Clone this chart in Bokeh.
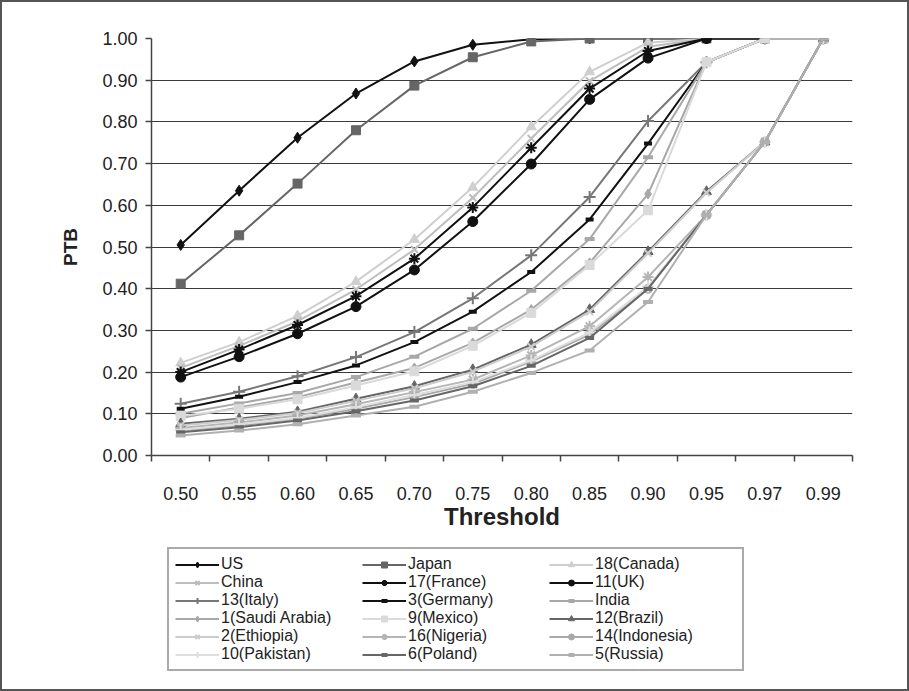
from bokeh.plotting import figure
from bokeh.layouts import column
from bokeh.models import Legend, LegendItem, FixedTicker, NumeralTickFormatter, Range1d
from bokeh.embed import file_html
from bokeh.resources import INLINE

# ---------------- data ----------------
thresholds = ["0.50", "0.55", "0.60", "0.65", "0.70", "0.75",
              "0.80", "0.85", "0.90", "0.95", "0.97", "0.99"]

us        = [0.505, 0.635, 0.762, 0.868, 0.945, 0.985, 0.998, 1.0, 1.0, 1.0, 1.0, 1.0]
japan     = [0.412, 0.528, 0.652, 0.780, 0.887, 0.955, 0.993, 1.0, 1.0, 1.0, 1.0, 1.0]
canada    = [0.222, 0.272, 0.335, 0.417, 0.518, 0.643, 0.788, 0.920, 0.990, 1.0, 1.0, 1.0]
china     = [0.210, 0.263, 0.322, 0.398, 0.494, 0.618, 0.760, 0.898, 0.980, 1.0, 1.0, 1.0]
france    = [0.200, 0.254, 0.313, 0.382, 0.472, 0.595, 0.738, 0.880, 0.970, 1.0, 1.0, 1.0]
uk        = [0.188, 0.237, 0.292, 0.357, 0.445, 0.561, 0.699, 0.854, 0.953, 1.0, 1.0, 1.0]
italy     = [0.124, 0.153, 0.190, 0.236, 0.296, 0.377, 0.480, 0.620, 0.802, 0.943, 1.0, 1.0]
germany   = [0.112, 0.141, 0.176, 0.216, 0.272, 0.345, 0.440, 0.566, 0.748, 0.943, 1.0, 1.0]
india     = [0.100, 0.125, 0.150, 0.188, 0.237, 0.304, 0.395, 0.519, 0.715, 0.943, 1.0, 1.0]
saudi     = [0.090, 0.115, 0.140, 0.175, 0.210, 0.270, 0.350, 0.462, 0.627, 0.943, 1.0, 1.0]
mexico    = [0.095, 0.112, 0.135, 0.168, 0.202, 0.263, 0.342, 0.457, 0.588, 0.943, 1.0, 1.0]
brazil    = [0.076, 0.088, 0.105, 0.136, 0.166, 0.206, 0.266, 0.350, 0.489, 0.633, 0.752, 1.0]
ethiopia  = [0.072, 0.085, 0.102, 0.131, 0.161, 0.201, 0.261, 0.345, 0.485, 0.630, 0.752, 1.0]
nigeria   = [0.066, 0.079, 0.096, 0.123, 0.152, 0.182, 0.240, 0.310, 0.428, 0.577, 0.752, 1.0]
indonesia = [0.060, 0.072, 0.088, 0.112, 0.140, 0.172, 0.225, 0.290, 0.400, 0.577, 0.752, 1.0]
pakistan  = [0.062, 0.075, 0.090, 0.116, 0.145, 0.176, 0.228, 0.295, 0.405, 0.577, 0.752, 1.0]
poland    = [0.056, 0.068, 0.084, 0.106, 0.132, 0.166, 0.215, 0.282, 0.400, 0.577, 0.752, 1.0]
russia    = [0.048, 0.060, 0.075, 0.096, 0.117, 0.153, 0.198, 0.252, 0.368, 0.577, 0.752, 1.0]

series_names = ["US", "Japan", "18(Canada)", "China", "17(France)", "11(UK)",
                "13(Italy)", "3(Germany)", "India", "1(Saudi Arabia)", "9(Mexico)", "12(Brazil)",
                "2(Ethiopia)", "16(Nigeria)", "14(Indonesia)", "10(Pakistan)", "6(Poland)", "5(Russia)"]
series_values = [us, japan, canada, china, france, uk,
                 italy, germany, india, saudi, mexico, brazil,
                 ethiopia, nigeria, indonesia, pakistan, poland, russia]
y_ticks = [0.0, 0.1, 0.2, 0.3, 0.4, 0.5, 0.6, 0.7, 0.8, 0.9, 1.0]

# ---------------- styles ----------------
styles = [
    ("#111111", "diamond", 11),
    ("#666666", "square", 9),
    ("#cfcfcf", "triangle", 10),
    ("#bdbdbd", "x", 10),
    ("#111111", "asterisk", 11),
    ("#111111", "circle", 10),
    ("#777777", "cross", 12),
    ("#111111", "dash", 8),
    ("#a8a8a8", "dash", 10),
    ("#a8a8a8", "diamond", 10),
    ("#dadada", "square", 9),
    ("#666666", "triangle", 10),
    ("#cccccc", "x", 10),
    ("#b5b5b5", "asterisk", 11),
    ("#a8a8a8", "circle", 9),
    ("#dedede", "cross", 12),
    ("#666666", "dash", 9),
    ("#b0b0b0", "dash", 10),
]

FONT = "Liberation Sans"
n = len(thresholds)
xpos = [i + 0.5 for i in range(n)]


def draw_series(fig):
    out = []
    for name, vals, (color, marker, size) in zip(series_names, series_values, styles):
        r1 = fig.line(xpos, vals, line_color=color, line_width=2)
        lw = 2 if marker in ("x", "asterisk", "cross") else (4 if marker == "dash" else 1)
        r2 = fig.scatter(xpos, vals, marker=marker, size=size, fill_color=color,
                         line_color=color, line_width=lw)
        out.append((name, r1, r2))
    return out


# ---------------- main chart ----------------
p = figure(frame_width=701, frame_height=417, output_backend="svg", toolbar_location=None,
           x_range=Range1d(0, n), y_range=Range1d(0, 1.0),
           min_border_left=149, min_border_right=55, min_border_top=36, min_border_bottom=90)
p.outline_line_color = None
p.xgrid.grid_line_color = None
p.ygrid.ticker = FixedTicker(ticks=y_ticks)
p.ygrid.grid_line_color = "#3a3a3a"
p.ygrid.grid_line_width = 1
draw_series(p)

xa = p.xaxis[0]
xa.ticker = FixedTicker(ticks=xpos, minor_ticks=list(range(n + 1)))
xa.major_label_overrides = {x: t for x, t in zip(xpos, thresholds)}
xa.major_tick_out = 0
xa.major_tick_in = 0
xa.minor_tick_out = 6
xa.minor_tick_in = 0
xa.minor_tick_line_color = "#444444"
xa.minor_tick_line_width = 1.5
xa.axis_line_color = "#444444"
xa.axis_line_width = 1.5
xa.major_label_standoff = 25
xa.major_label_text_font = FONT
xa.major_label_text_font_size = "18px"
xa.major_label_text_color = "#222222"
xa.axis_label = "Threshold"
xa.axis_label_text_font = FONT
xa.axis_label_text_font_size = "24px"
xa.axis_label_text_font_style = "bold"
xa.axis_label_text_color = "#222222"
xa.axis_label_standoff = 0

ya = p.yaxis[0]
ya.ticker = FixedTicker(ticks=y_ticks)
ya.formatter = NumeralTickFormatter(format="0.00")
ya.major_tick_out = 6
ya.major_tick_in = 0
ya.minor_tick_line_color = None
ya.major_tick_line_color = "#444444"
ya.major_tick_line_width = 1.5
ya.axis_line_color = "#444444"
ya.axis_line_width = 1.5
ya.major_label_standoff = 8
ya.major_label_text_font = FONT
ya.major_label_text_font_size = "18px"
ya.major_label_text_color = "#222222"
ya.axis_label = "PTB"
ya.axis_label_text_font = FONT
ya.axis_label_text_font_size = "19px"
ya.axis_label_text_font_style = "bold"
ya.axis_label_text_color = "#222222"
ya.axis_label_standoff = 18

# ---------------- legend panel ----------------
leg_fig = figure(width=905, height=144, output_backend="svg", toolbar_location=None,
                 x_range=Range1d(100, 101), y_range=Range1d(100, 101),
                 x_axis_location=None, y_axis_location=None, min_border=0)
leg_fig.outline_line_color = None
leg_fig.grid.grid_line_color = None
leg_items = [LegendItem(label=name, renderers=[r1, r2]) for name, r1, r2 in draw_series(leg_fig)]

legend = Legend(items=leg_items, orientation="horizontal", ncols=3,
                location=(16, 18), margin=0)
legend.label_text_font = FONT
legend.label_text_font_size = "16px"
legend.label_text_color = "#222222"
legend.label_height = 15
legend.label_width = 141
legend.glyph_width = 44
legend.glyph_height = 15
legend.label_standoff = 2
legend.spacing = 0
legend.padding = 6
legend.border_line_color = "#555555"
legend.border_line_width = 2
legend.background_fill_color = "white"
leg_fig.add_layout(legend, "center")

layout = column(p, leg_fig, spacing=0)
layout.styles = {"border": "2px solid #555555"}

open("out.html", "w").write(file_html(layout, INLINE))
